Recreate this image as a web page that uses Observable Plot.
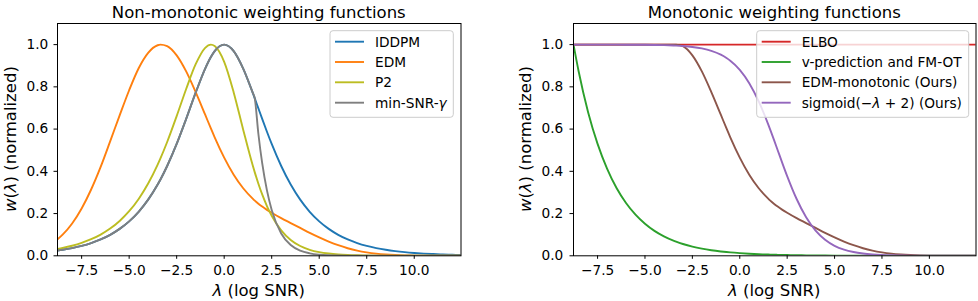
<!DOCTYPE html>
<html><head><meta charset="utf-8">
<script src="https://cdn.jsdelivr.net/npm/d3@7"></script>
<script src="https://cdn.jsdelivr.net/npm/@observablehq/plot@0.6"></script>
<style>
html,body{margin:0;padding:0;background:#fff;}
#wrap{display:flex;width:978px;height:301px;overflow:hidden;}
svg text{font-family:"DejaVu Sans",sans-serif;}
</style></head><body><div id="wrap"></div>
<script>
// log-SNR sample positions
const lambdas = [-8.77, -8.5, -8, -7.5, -7, -6.5, -6, -5.5, -5, -4.5, -4, -3.5, -3.36, -3, -2.5, -2, -1.5, -1, -0.7, -0.5, 0, 0.5, 1, 1.5, 1.61, 1.8, 2, 2.25, 2.5, 3, 3.5, 4, 4.5, 5, 5.5, 6, 6.5, 7, 7.5, 8, 8.5, 9, 9.5, 10, 10.5, 11, 11.5, 12, 12.46];

// Non-monotonic weighting functions
const iddpm = [0.0249, 0.0285, 0.0366, 0.0470, 0.0603, 0.0774, 0.0993, 0.1274, 0.1631, 0.2085, 0.2658, 0.3373, 0.3602, 0.4251, 0.5295, 0.6481, 0.7724, 0.8868, 0.9417, 0.9695, 1.0, 0.9695, 0.8868, 0.7724, 0.7452, 0.6978, 0.6481, 0.5874, 0.5295, 0.4251, 0.3373, 0.2658, 0.2085, 0.1631, 0.1274, 0.0993, 0.0774, 0.0603, 0.0470, 0.0366, 0.0285, 0.0222, 0.0173, 0.0135, 0.0105, 0.0082, 0.0064, 0.0050, 0.0039];
const edm = [0.078, 0.100, 0.153, 0.224, 0.314, 0.421, 0.542, 0.665, 0.784, 0.888, 0.961, 0.997, 1.0, 0.993, 0.949, 0.873, 0.775, 0.668, 0.603, 0.561, 0.465, 0.384, 0.320, 0.271, 0.2615, 0.2469, 0.233, 0.2176, 0.2036, 0.178, 0.155, 0.132, 0.109, 0.0876, 0.0677, 0.0503, 0.0359, 0.0245, 0.0161, 0.0101, 0.0061, 0.0035, 0.0019, 0.0010, 0.0005, 0.0002, 0.0001, 0, 0];
const p2 = [0.0324, 0.0371, 0.0476, 0.0611, 0.0784, 0.1005, 0.1289, 0.1651, 0.2111, 0.2693, 0.3421, 0.4318, 0.4600, 0.5389, 0.6613, 0.7900, 0.9072, 0.9849, 1.0, 0.9935, 0.9185, 0.7738, 0.5973, 0.4285, 0.3950, 0.3414, 0.2906, 0.2356, 0.1895, 0.1203, 0.0750, 0.0463, 0.0284, 0.0173, 0.0106, 0.0064, 0.0039, 0.0024, 0.0014, 0.0009, 0.0005, 0.0003, 0.0002, 0.0001, 0, 0, 0, 0, 0];
const minSnr = [0.0249, 0.0285, 0.0366, 0.0470, 0.0603, 0.0774, 0.0993, 0.1274, 0.1631, 0.2085, 0.2658, 0.3373, 0.3602, 0.4251, 0.5295, 0.6481, 0.7724, 0.8868, 0.9417, 0.9695, 1.0, 0.9695, 0.8868, 0.7724, 0.7452, 0.5767, 0.4385, 0.3096, 0.2173, 0.1058, 0.0509, 0.0243, 0.0116, 0.0055, 0.0026, 0.0012, 0.0006, 0.0003, 0.0001, 0, 0, 0, 0, 0, 0, 0, 0, 0, 0];

// Monotonic weighting functions
const elbo = [1, 1, 1, 1, 1, 1, 1, 1, 1, 1, 1, 1, 1, 1, 1, 1, 1, 1, 1, 1, 1, 1, 1, 1, 1, 1, 1, 1, 1, 1, 1, 1, 1, 1, 1, 1, 1, 1, 1, 1, 1, 1, 1, 1, 1, 1, 1, 1, 1];
const vpred = [1.0, 0.874, 0.680, 0.530, 0.413, 0.321, 0.250, 0.195, 0.152, 0.118, 0.092, 0.0717, 0.0669, 0.0559, 0.0435, 0.0339, 0.0264, 0.0206, 0.0177, 0.0160, 0.0125, 0.0097, 0.0076, 0.0059, 0.0056, 0.0051, 0.0046, 0.0040, 0.0036, 0.0028, 0.0022, 0.0017, 0.0013, 0.0010, 0.0008, 0.0006, 0.0005, 0.0004, 0.0003, 0.0002, 0.0002, 0.0001, 0.0001, 0.0001, 0, 0, 0, 0, 0];
const edmMono = [1, 1, 1, 1, 1, 1, 1, 1, 1, 1, 1, 1, 1, 0.993, 0.949, 0.873, 0.775, 0.668, 0.603, 0.561, 0.465, 0.384, 0.320, 0.271, 0.2615, 0.2469, 0.233, 0.2176, 0.2036, 0.178, 0.155, 0.132, 0.109, 0.0876, 0.0677, 0.0503, 0.0359, 0.0245, 0.0161, 0.0101, 0.0061, 0.0035, 0.0019, 0.0010, 0.0005, 0.0002, 0.0001, 0, 0];
const sigmoidW = [1.0, 1.0, 1.0, 0.9999, 0.9999, 0.9998, 0.9997, 0.9994, 0.9991, 0.9985, 0.9975, 0.9959, 0.9953, 0.9933, 0.9890, 0.9820, 0.9707, 0.9526, 0.9370, 0.9241, 0.8808, 0.8176, 0.7311, 0.6225, 0.5963, 0.5498, 0.5, 0.4378, 0.3775, 0.2689, 0.1824, 0.1192, 0.0759, 0.0474, 0.0293, 0.0180, 0.0110, 0.0067, 0.0041, 0.0025, 0.0015, 0.0009, 0.0006, 0.0003, 0.0002, 0.0001, 0.0001, 0, 0];

const xTicks = [-7.5, -5, -2.5, 0, 2.5, 5, 7.5, 10];
const yTicks = [0, 0.2, 0.4, 0.6, 0.8, 1.0];

// labels: arrays of [text, italic]
const leftSeries = [
  {label: [["IDDPM", false]], color: "#1f77b4", values: iddpm},
  {label: [["EDM", false]], color: "#ff7f0e", values: edm},
  {label: [["P2", false]], color: "#bcbd22", values: p2},
  {label: [["min-SNR-", false], ["γ", true]], color: "#7f7f7f", values: minSnr}
];
const rightSeries = [
  {label: [["ELBO", false]], color: "#d62728", values: elbo},
  {label: [["v-prediction and FM-OT", false]], color: "#2ca02c", values: vpred},
  {label: [["EDM-monotonic (Ours)", false]], color: "#8c564b", values: edmMono},
  {label: [["sigmoid(−", false], ["λ", true], [" + 2) (Ours)", false]], color: "#9467bd", values: sigmoidW}
];

function addText(sel, parts) {
  parts.forEach(([t, it]) => {
    const ts = sel.append("tspan").text(t);
    if (it) ts.attr("font-style", "italic");
  });
  return sel;
}

function panel(cfg) {
  const mt = 23, mb = 45.7, H = 301;
  const svg = Plot.plot({
    width: cfg.width, height: H,
    marginLeft: cfg.ml, marginRight: cfg.mr, marginTop: mt, marginBottom: mb,
    x: {domain: [-8.77, 12.46]},
    y: {domain: [0, 1.1]},
    style: {fontFamily: "DejaVu Sans", fontSize: "13.7px", color: "black", background: "white", overflow: "visible"},
    marks: [
      ...cfg.series.map(s => Plot.line(lambdas.map((l, i) => ({l, w: s.values[i]})),
        {x: "l", y: "w", stroke: s.color, strokeWidth: 1.9, curve: "monotone-x", clip: true})),
      Plot.frame({stroke: "black", strokeWidth: 1}),
      Plot.axisX({ticks: xTicks, tickFormat: d3.format(".1f"), tickSize: 3.5, tickPadding: 5.5, label: null}),
      Plot.axisY({ticks: yTicks, tickFormat: d3.format(".1f"), tickSize: 3.5, tickPadding: cfg.ypad, label: null})
    ]
  });
  const s = d3.select(svg);
  const fx0 = cfg.ml, fx1 = cfg.width - cfg.mr;
  const cx = (fx0 + fx1) / 2, cy = (mt + H - mb) / 2;
  s.append("text").attr("x", cx).attr("y", 17.5).attr("text-anchor", "middle")
    .attr("font-size", "16.5px").attr("fill", "black").text(cfg.title);
  addText(s.append("text").attr("x", cx).attr("y", 296).attr("text-anchor", "middle")
    .attr("font-size", "16.5px").attr("fill", "black"), [["λ", true], [" (log SNR)", false]]);
  addText(s.append("text").attr("transform", `translate(${cfg.ylx},${cy}) rotate(-90)`).attr("text-anchor", "middle")
    .attr("font-size", "16.5px").attr("fill", "black"), [["w", true], ["(", false], ["λ", true], [") (normalized)", false]]);
  // legend
  const L = cfg.legend;
  const g = s.append("g");
  g.append("rect").attr("x", L.x).attr("y", L.y).attr("width", L.w).attr("height", L.h)
    .attr("rx", 3).attr("fill", "white").attr("fill-opacity", 0.8).attr("stroke", "#cccccc").attr("stroke-width", 1);
  const rows = [41.7, 62, 82.3, 102.7];
  cfg.series.forEach((ser, i) => {
    g.append("line").attr("x1", L.x + 5).attr("x2", L.x + 34).attr("y1", rows[i]).attr("y2", rows[i])
      .attr("stroke", ser.color).attr("stroke-width", 1.9);
    addText(g.append("text").attr("x", L.x + 45).attr("y", rows[i] + 5).attr("text-anchor", "start")
      .attr("font-size", "13.7px").attr("fill", "black"), ser.label);
  });
  return svg;
}

const wrap = document.getElementById("wrap");
wrap.appendChild(panel({width: 490, ml: 57, mr: 29.5, ypad: 5.8, ylx: 16.2, title: "Non-monotonic weighting functions",
  series: leftSeries, legend: {x: 330, y: 30.7, w: 123.3, h: 86.6}}));
wrap.appendChild(panel({width: 488, ml: 83, mr: 2.5, ypad: 6.8, ylx: 41.2, title: "Monotonic weighting functions",
  series: rightSeries, legend: {x: 266.7, y: 30.7, w: 212, h: 86.6}}));
</script></body></html>
